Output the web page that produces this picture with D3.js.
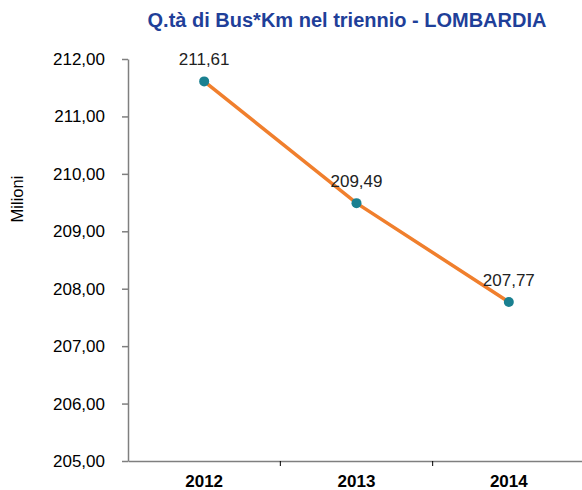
<!DOCTYPE html>
<html><head><meta charset="utf-8">
<script src="https://cdn.jsdelivr.net/npm/d3@7"></script>
<style>body{margin:0;background:#fff}svg{display:block;font-family:Arial,"Liberation Sans",sans-serif}</style>
</head><body>
<script>
const categories = ["2012","2013","2014"];
const values = [211.61, 209.49, 207.77];
const yTicks = [205,206,207,208,209,210,211,212];
const title = "Q.tà di Bus*Km nel triennio - LOMBARDIA";
const yTitle = "Milioni";

const W = 582, H = 490;
const m = {left:128, right:-3, top:59, bottom:29};
const FF = "Arial, 'Liberation Sans', sans-serif";
const svg = d3.select("body").append("svg").attr("width",W).attr("height",H);
const fmt = v => v.toFixed(2).replace(".", ",");

const x = d3.scaleBand().domain(categories).range([m.left, W - m.right]);
const y = d3.scaleLinear().domain([205,212]).range([H - m.bottom, m.top]);

svg.append("text").attr("x",347).attr("y",27).attr("text-anchor","middle")
  .attr("font-size",20).attr("font-weight","bold").attr("fill","#1F3F99").text(title);

svg.append("text").attr("transform","translate(23,199) rotate(-90)").attr("text-anchor","middle")
  .attr("font-size",16.5).attr("fill","#000").text(yTitle);

const ya = svg.append("g").attr("transform",`translate(${m.left},0)`)
  .call(d3.axisLeft(y).tickValues(yTicks).tickFormat(fmt).tickSize(6).tickSizeOuter(0).tickPadding(17));
ya.selectAll("path,line").attr("stroke","#7f7f7f").attr("stroke-width",1.5);
ya.selectAll("text").attr("font-size",17).attr("fill","#000").attr("font-family",FF);

const xa = svg.append("g").attr("transform",`translate(0,${y(205)})`)
  .call(d3.axisBottom(x).tickSize(0).tickFormat(""));
xa.select("path").attr("stroke","#7f7f7f").attr("stroke-width",1.5);
svg.selectAll("text.xl").data(categories).join("text").attr("class","xl")
  .attr("x",d=>x(d)+x.bandwidth()/2).attr("y",487).attr("text-anchor","middle")
  .attr("font-size",17).attr("font-weight","bold").attr("fill","#000").text(d=>d);
// category boundary ticks
categories.forEach((c,i)=>{ if(i>0){ const bx = x(c);
  svg.append("line").attr("x1",bx).attr("x2",bx).attr("y1",y(205)).attr("y2",y(205)+5).attr("stroke","#000").attr("stroke-width",1);}});

const pts = categories.map((c,i)=>[x(c)+x.bandwidth()/2, y(values[i])]);
svg.append("path").attr("d", d3.line()(pts)).attr("fill","none").attr("stroke","#F07F2D").attr("stroke-width",3.5);
svg.selectAll("circle.pt").data(pts).join("circle").attr("class","pt")
  .attr("cx",d=>d[0]).attr("cy",d=>d[1]).attr("r",5).attr("fill","#1A8090");
svg.selectAll("text.lbl").data(pts).join("text").attr("class","lbl")
  .attr("x",d=>d[0]).attr("y",d=>d[1]-16).attr("text-anchor","middle")
  .attr("font-size",17).attr("fill","#222").text((d,i)=>fmt(values[i]));
</script>
</body></html>
